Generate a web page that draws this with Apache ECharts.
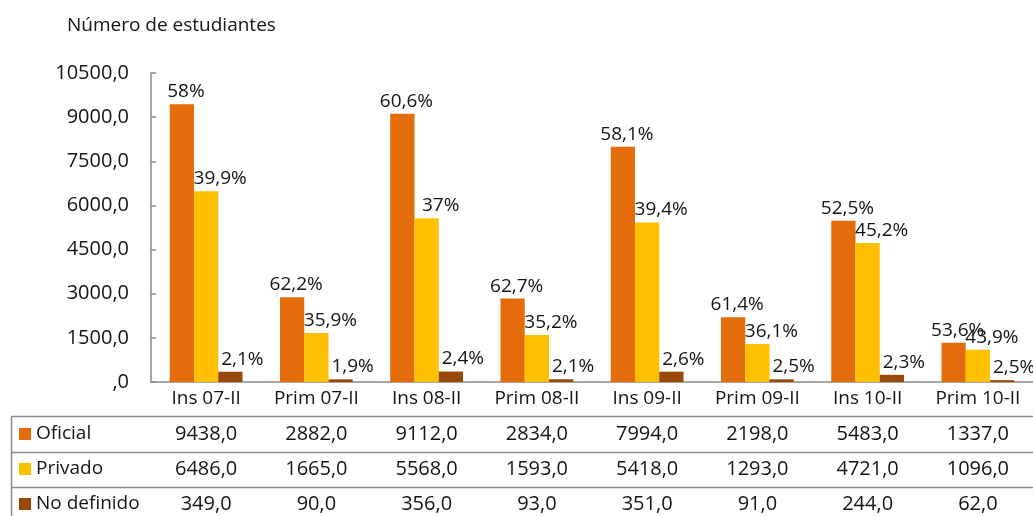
<!DOCTYPE html>
<html>
<head>
<meta charset="utf-8">
<script src="https://cdn.jsdelivr.net/npm/echarts@6/dist/echarts.min.js"></script>
<style>
  html, body { margin: 0; padding: 0; background: #fff; }
  #chart { width: 1033px; height: 516px; }
</style>
</head>
<body>
<div id="chart"></div>
<script>
  // categorias y datos
  var categorias = ['Ins 07-II', 'Prim 07-II', 'Ins 08-II', 'Prim 08-II', 'Ins 09-II', 'Prim 09-II', 'Ins 10-II', 'Prim 10-II'];
  var oficial = [9438, 2882, 9112, 2834, 7994, 2198, 5483, 1337];
  var privado = [6486, 1665, 5568, 1593, 5418, 1293, 4721, 1096];
  var noDefinido = [349, 90, 356, 93, 351, 91, 244, 62];
  var pctOficial = [58, 62.2, 60.6, 62.7, 58.1, 61.4, 52.5, 53.6];
  var pctPrivado = [39.9, 35.9, 37, 35.2, 39.4, 36.1, 45.2, 43.9];
  var pctNoDefinido = [2.1, 1.9, 2.4, 2.1, 2.6, 2.5, 2.3, 2.5];
  var nombres = ['Oficial', 'Privado', 'No definido'];
  var colores = ['#E46C0A', '#FFC000', '#984807'];

  var fuente = 'Open Sans';
  var gris = '#8a8a8a';
  var negro = '#141414';

  function numero(v) {
      return v === 0 ? ',0' : v.toFixed(1).replace('.', ',');
  }

  function pct(v) {
      return String(v).replace('.', ',') + '%';
  }

  // eje x extra para cada fila de la tabla
  function filaTabla(valores, offset) {
      return {
          type: 'category',
          gridIndex: 0,
          position: 'bottom',
          offset: offset,
          data: valores.map(numero),
          axisLine: { show: false },
          axisTick: { show: false },
          axisLabel: {
              interval: 0,
              margin: 0,
              verticalAlign: 'middle',
              fontFamily: fuente,
              fontSize: 20,
              color: negro
          }
      }
  }

  // desplazamiento de las etiquetas como en el original
  var desplaza = [4, 14, 12];

  function serie(i, valores, porcentajes) {
      return {
          name: nombres[i],
          type: 'bar',
          data: valores,
          barGap: '0%',
          barCategoryGap: '34%',
          itemStyle: { color: colores[i] },
          label: {
              show: true,
              position: 'top',
              distance: 3,
              offset: [desplaza[i], 0],
              fontFamily: fuente,
              fontSize: 19,
              color: negro,
              formatter: function(p) {
                  return pct(porcentajes[p.dataIndex])
              }
          }
      }
  }

  var myChart = echarts.init(document.getElementById('chart'));
  var option = {
      animation: false,
      title: {
          text: 'Número de estudiantes',
          left: 62,
          top: 11,
          textStyle: {
              fontFamily: fuente,
              fontSize: 19,
              fontWeight: 'normal',
              color: negro
          }
      },
      legend: {
          orient: 'vertical',
          left: 19,
          top: 424,
          height: 100,
          padding: 0,
          icon: 'rect',
          itemWidth: 12,
          itemHeight: 12,
          itemGap: 15,
          selectedMode: false,
          data: nombres,
          textStyle: {
              fontFamily: fuente,
              fontSize: 19,
              lineHeight: 20,
              color: negro
          }
      },
      grid: {
          left: 151,
          top: 73,
          width: 894,
          height: 309
      },
      xAxis: [{
              type: 'category',
              data: categorias,
              axisLine: { lineStyle: { color: gris, width: 1.5 } },
              axisTick: { length: 134, lineStyle: { color: gris, width: 1.5 } },
              axisLabel: {
                  interval: 0,
                  margin: 7,
                  fontFamily: fuente,
                  fontSize: 19,
                  color: negro
              }
          },
          filaTabla(oficial, 52),
          filaTabla(privado, 87),
          filaTabla(noDefinido, 122)
      ],
      yAxis: {
          type: 'value',
          min: 0,
          max: 10500,
          interval: 1500,
          splitLine: { show: false },
          axisLine: { show: true, lineStyle: { color: gris, width: 1.5 } },
          axisTick: { show: true, inside: true, length: 5, lineStyle: { color: gris, width: 1.5 } },
          axisLabel: {
              margin: 22,
              fontFamily: fuente,
              fontSize: 20,
              color: negro,
              formatter: numero
          }
      },
      graphic: [
          { type: 'line', shape: { x1: 11, y1: 416.5, x2: 1033, y2: 416.5 }, style: { stroke: gris, lineWidth: 1.5 } },
          { type: 'line', shape: { x1: 11, y1: 452.5, x2: 1033, y2: 452.5 }, style: { stroke: gris, lineWidth: 1.5 } },
          { type: 'line', shape: { x1: 11, y1: 487.5, x2: 1033, y2: 487.5 }, style: { stroke: gris, lineWidth: 1.5 } },
          { type: 'line', shape: { x1: 11.5, y1: 416.5, x2: 11.5, y2: 516 }, style: { stroke: gris, lineWidth: 1.5 } }
      ],
      series: [
          serie(0, oficial, pctOficial),
          serie(1, privado, pctPrivado),
          serie(2, noDefinido, pctNoDefinido)
      ]
  };
  myChart.setOption(option);
</script>
</body>
</html>
